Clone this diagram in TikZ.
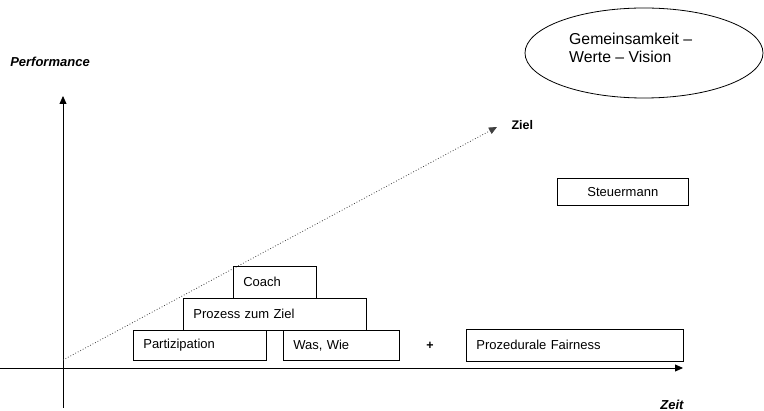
\documentclass[tikz,border=0pt]{standalone}
\usepackage{fontspec}
\setmainfont{Liberation Sans}
\usetikzlibrary{arrows.meta,shapes.geometric}
\begin{document}
\begin{tikzpicture}[x=1pt,y=-1pt,
  lbox/.style={draw, line width=0.7pt, anchor=north west, inner xsep=10pt, inner ysep=0pt,
    minimum height=32pt, align=left, font=\fontsize{13}{15}\selectfont},
  cbox/.style={draw, line width=0.7pt, anchor=north west, inner sep=0pt,
    minimum height=27pt, minimum width=131pt, font=\fontsize{13}{15}\selectfont},
  axislabel/.style={font=\fontsize{13}{15}\selectfont\bfseries\itshape},
  boldlabel/.style={font=\fontsize{12.5}{15}\selectfont\bfseries},
  axis/.style={line width=0.8pt, -{Triangle[length=8pt,width=7pt]}},
  goal/.style={dotted, line width=0.8pt, black!75, -{Triangle[length=8pt,width=7pt]}}]
\useasboundingbox (0,0) rectangle (764,411);
% axes
\coordinate (xs) at (0,368);
\coordinate (xe) at (683,368);
\coordinate (ys) at (63,408);
\coordinate (ye) at (63,96);
\coordinate (gs) at (63,360);
\coordinate (ge) at (497,127);
\draw[axis] (xs) -- (xe);
\draw[axis] (ys) -- (ye);
\draw[goal] (gs) -- (ge);
% labels
\node[axislabel] (perf) at (50,62) {Performance};
\node[boldlabel, anchor=west] (ziel) at (508,125) {Ziel};
\node[axislabel] (zeit) at (672,405) {Zeit};
\node[boldlabel] (plus) at (430,346) {+};
% ellipse
\node[draw, ellipse, line width=0.8pt, minimum width=238pt, minimum height=90pt] (ell) at (644,53) {};
\node[anchor=west, align=left, inner sep=0pt, font=\fontsize{15.8}{17.8}\selectfont] (elltext) at (569,48) {Gemeinsamkeit –\\Werte – Vision};
% boxes
\node[lbox, text width=63pt] (coach) at (233,266) {Coach};
\node[lbox, text width=163pt] (prozess) at (183,298) {Prozess zum Ziel};
\node[lbox, text width=113pt, minimum height=30pt] (partizipation) at (133,330) {Partizipation};
\node[lbox, text width=96pt, minimum height=30pt] (waswie) at (283,330) {Was, Wie};
\node[lbox, text width=197pt] (fairness) at (466,329) {Prozedurale Fairness};
\node[cbox] (steuermann) at (557,178) {Steuermann};
\end{tikzpicture}
\end{document}
